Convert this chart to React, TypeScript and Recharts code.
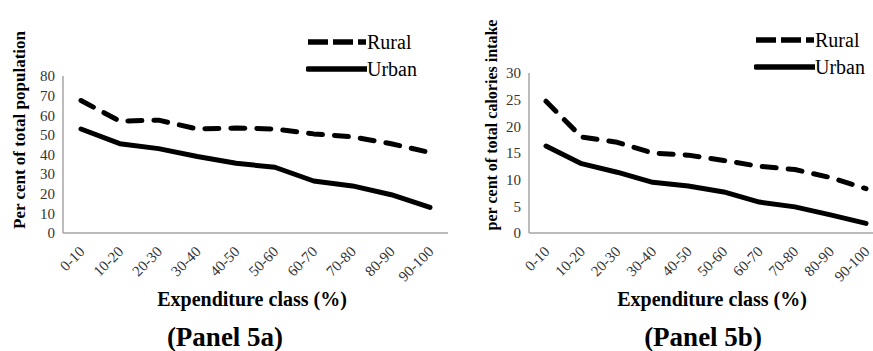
import React from 'react';
import { LineChart, Line, XAxis, YAxis, Legend } from 'recharts';

// expenditure classes shared by both panels
const classes = ['0-10', '10-20', '20-30', '30-40', '40-50', '50-60', '60-70', '70-80', '80-90', '90-100'];

// panel 5a: per cent of total population
const popRural = [67.5, 57, 57.5, 53, 53.5, 53, 50.5, 49, 45.5, 41];
const popUrban = [53, 45.5, 43, 39, 35.5, 33.5, 26.5, 24, 19.5, 13];
const popTicks = [0, 10, 20, 30, 40, 50, 60, 70, 80];

// panel 5b: per cent of total calories intake
const calRural = [24.7, 18, 17, 15, 14.6, 13.6, 12.5, 11.9, 10.4, 8.3];
const calUrban = [16.3, 13, 11.4, 9.5, 8.8, 7.7, 5.8, 4.9, 3.4, 1.8];
const calTicks = [0, 5, 10, 15, 20, 25, 30];

const SERIF = "'Liberation Serif', 'DejaVu Serif', 'Times New Roman', Times, serif";
const AXIS_GRAY = '#a6a6a6';
const TICK_COLOR = '#333';

const toRows = (rural: number[], urban: number[]) =>
  classes.map((c, i) => ({ cls: c, rural: rural[i], urban: urban[i] }));

// category labels slanted at 45 degrees, ending just under the point
function SlantTick({ x, y, payload }: any) {
  return (
    <g transform={`translate(${x + 1},${y + 16})`}>
      <text
        x={0}
        y={0}
        dy={5}
        textAnchor="end"
        transform="rotate(-45)"
        style={{ fontFamily: SERIF }}
        fontSize={15}
        fill={TICK_COLOR}
      >
        {payload.value}
      </text>
    </g>
  );
}

function KeyBox() {
  const row = (label: string, dash?: string) => (
    <div style={{ display: 'flex', alignItems: 'center', height: 27 }}>
      <svg width={61} height={10}>
        <line x1={2} y1={5} x2={60} y2={5} stroke="#000" strokeWidth={5.5}
          strokeDasharray={dash} strokeLinecap={dash ? 'butt' : 'round'} />
      </svg>
      <span style={{ fontFamily: SERIF, fontSize: 20, color: '#000', lineHeight: '20px' }}>{label}</span>
    </div>
  );
  return (
    <div>
      {row('Rural', '20 5')}
      {row('Urban')}
    </div>
  );
}

interface PanelProps {
  left: number;
  width: number;
  top: number;
  yWidth: number;
  pad: number;
  rural: number[];
  urban: number[];
  ticks: number[];
  legendLeft: number;
  legendTop: number;
}

function Panel({ left, width, top, yWidth, pad, rural, urban, ticks, legendLeft, legendTop }: PanelProps) {
  const rows = toRows(rural, urban);
  const max = ticks[ticks.length - 1];
  return (
    <div style={{ position: 'absolute', left, top: 0 }}>
      <LineChart width={width} height={351} data={rows}
        margin={{ top, right: 12, left: 0, bottom: 0 }}>
        <XAxis dataKey="cls" height={118} tick={<SlantTick />} tickLine={false}
          tickSize={0} tickMargin={0} interval={0} padding={{ left: pad, right: pad }}
          axisLine={{ stroke: AXIS_GRAY, strokeWidth: 1.5 }} />
        <YAxis width={yWidth} domain={[0, max]} ticks={ticks} tickLine={false}
          tickSize={0} tickMargin={8} interval={0}
          axisLine={{ stroke: AXIS_GRAY, strokeWidth: 1.5 }}
          tick={{ fontSize: 15, fill: TICK_COLOR, style: { fontFamily: SERIF } }} />
        <Legend content={<KeyBox />} verticalAlign="top" align="left"
          wrapperStyle={{ left: legendLeft, top: legendTop, width: 'auto' }} />
        <Line type="linear" dataKey="rural" name="Rural" stroke="#000" strokeWidth={5}
          strokeDasharray="14 12" strokeLinecap="round" strokeLinejoin="round"
          dot={false} activeDot={false} isAnimationActive={false} />
        <Line type="linear" dataKey="urban" name="Urban" stroke="#000" strokeWidth={5}
          strokeLinecap="round" strokeLinejoin="round"
          dot={false} activeDot={false} isAnimationActive={false} />
      </LineChart>
    </div>
  );
}

const bold: React.CSSProperties = {
  position: 'absolute',
  fontFamily: SERIF,
  fontWeight: 'bold',
  color: '#000',
  whiteSpace: 'nowrap',
};

export default function App() {
  return (
    <div style={{ position: 'fixed', left: 0, top: 0, width: 873, height: 351, overflow: 'hidden', background: '#fff', fontFamily: SERIF }}>
      <Panel left={0} width={460} top={22} yWidth={63} pad={18} rural={popRural} urban={popUrban}
        ticks={popTicks} legendLeft={306} legendTop={28} />
      <Panel left={440} width={455} top={19} yWidth={89} pad={17} rural={calRural} urban={calUrban}
        ticks={calTicks} legendLeft={314} legendTop={26} />

      <div style={{ ...bold, fontSize: 17, left: 20, top: 130, transform: 'translate(-50%, -50%) rotate(-90deg)' }}>
        Per cent of total population
      </div>
      <div style={{ ...bold, fontSize: 16, left: 492, top: 125, transform: 'translate(-50%, -50%) rotate(-90deg)' }}>
        per cent of total calories intake
      </div>

      <div style={{ ...bold, fontSize: 20, left: 252, top: 299, transform: 'translate(-50%, -50%)' }}>
        Expenditure class (%)
      </div>
      <div style={{ ...bold, fontSize: 20, left: 712, top: 299, transform: 'translate(-50%, -50%)' }}>
        Expenditure class (%)
      </div>
      <div style={{ ...bold, fontSize: 27, left: 225, top: 337, transform: 'translate(-50%, -50%)' }}>
        (Panel 5a)
      </div>
      <div style={{ ...bold, fontSize: 27, left: 703, top: 337, transform: 'translate(-50%, -50%)' }}>
        (Panel 5b)
      </div>
    </div>
  );
}
